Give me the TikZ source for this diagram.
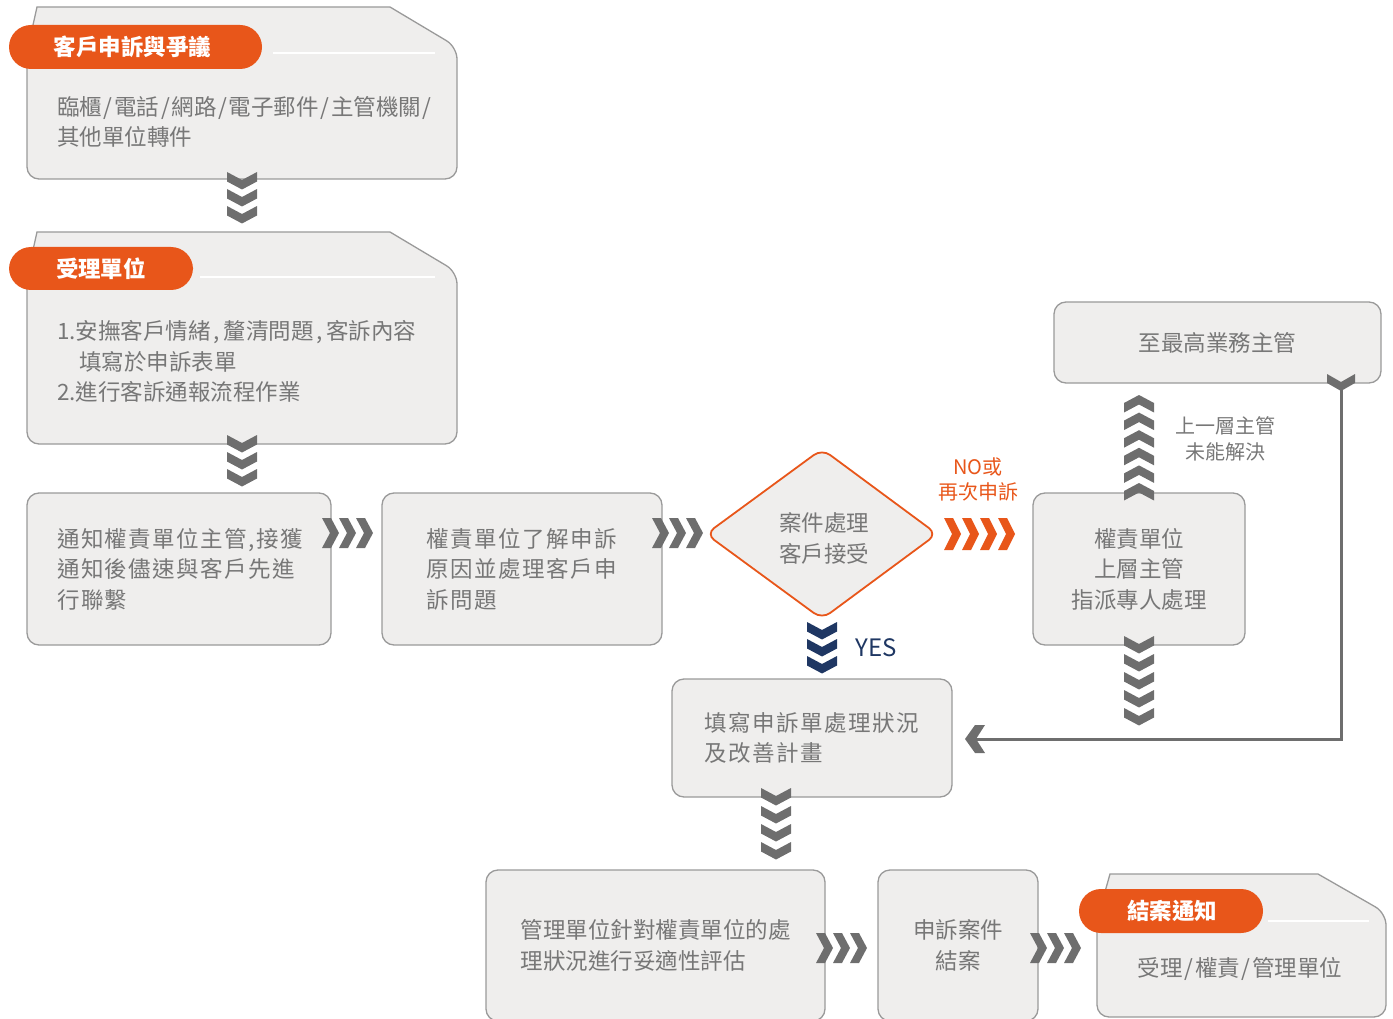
\documentclass[tikz,border=0pt]{standalone}
\usepackage{fontspec}
\newfontfamily\cjk{Noto Sans CJK TC}
\newfontfamily\cjkls{Noto Sans CJK TC}[LetterSpace=6.5]
\usetikzlibrary{calc}
\definecolor{cardfill}{HTML}{EFEEED}
\definecolor{cardline}{HTML}{9A9A9A}
\definecolor{txtgray}{HTML}{777777}
\definecolor{chevgray}{HTML}{6E6E6E}
\definecolor{orng}{HTML}{E8561A}
\definecolor{navy}{HTML}{1F3763}
\tikzset{
  card/.style={fill=cardfill, draw=cardline, line width=1.3pt},
  box/.style={card, rounded corners=12pt, inner sep=0pt},
  body/.style={text=txtgray, font=\cjk\fontsize{22.5}{30.5}\selectfont, inner sep=0pt},
  bodyls/.style={text=txtgray, font=\cjkls\fontsize{22.5}{30.5}\selectfont, inner sep=0pt},
  pill/.style={fill=orng, rounded corners=22pt, text=white, font=\cjk\bfseries\fontsize{22.5}{26}\selectfont, inner sep=0pt, minimum height=44pt},
  sepline/.style={draw=white, line width=1.5pt},
  lbl/.style={font=\cjk\fontsize{20}{25.5}\selectfont, inner sep=0pt, align=center},
}
\newcommand\slsep{\kern1.7pt/\kern1.7pt}
\newcommand\cmsep{\kern2.5pt,\kern4pt}
\newcommand\chevdown[5]{% x, ytop, count, color, spacing
  \foreach \k in {1,...,#3}{\fill[#4, shift={(#1,{#2+(\k-1)*#5})}] (-15,0) -- (0,8) -- (15,0) -- (15,9.5) -- (0,17.5) -- (-15,9.5) -- cycle;}}
\newcommand\chevup[5]{% x, ytop, count, color, spacing
  \foreach \k in {1,...,#3}{\fill[#4, shift={(#1,{#2+(\k-1)*#5})}] (-15,8) -- (0,0) -- (15,8) -- (15,17.5) -- (0,9.5) -- (-15,17.5) -- cycle;}}
\newcommand\chevright[6]{% xleft, ycenter, count, color, spacing, halfheight
  \foreach \k in {1,...,#3}{\fill[#4, shift={({#1+(\k-1)*#5},#2)}] (0,-#6) -- (9,-#6) -- (17,0) -- (9,#6) -- (0,#6) -- (8,0) -- cycle;}}
\begin{document}
\begin{tikzpicture}[x=1pt,y=-1pt]
\useasboundingbox (0,0) rectangle (1393,1019);
\clip (0,0) rectangle (1393,1019);

% ---- Card A
\filldraw[card] (37,7) -- (390,7) -- (423.5,27) [rounded corners=12pt] -- (457,47) -- (457,179) -- (27,179) -- (27,120) [sharp corners] -- (27,52) -- cycle;
\draw[sepline] (273,53) -- (435,53);
\node[pill, minimum width=253pt] (pA) at (135.5,47) {\kern-6pt客戶申訴與爭議};
\node[body, align=left, anchor=west] (tA) at (57,122) {臨櫃\slsep 電話\slsep 網路\slsep 電子郵件\slsep 主管機關\slsep\\其他單位轉件};

% ---- Card B
\filldraw[card] (37,232) -- (390,232) -- (423.5,252) [rounded corners=12pt] -- (457,272) -- (457,444) -- (27,444) -- (27,380) [sharp corners] -- (27,277) -- cycle;
\draw[sepline] (200,277) -- (435,277);
\node[pill, minimum width=184pt, minimum height=43pt] (pB) at (101,268.5) {受理單位};
\node[body, align=left, anchor=west] (tB) at (57,361.5) {1.安撫客戶情緒\cmsep 釐清問題\cmsep 客訴內容\\\hspace*{22pt}填寫於申訴表單\\2.進行客訴通報流程作業};

% ---- Row boxes
\node[box, bodyls, align=left, minimum width=304pt, minimum height=152pt] (C) at (179,569) {\kern2pt通知權責單位主管,接獲\\\kern2pt通知後儘速與客戶先進\\\kern2pt行聯繫};
\node[box, bodyls, align=left, minimum width=280pt, minimum height=152pt] (D) at (522,569) {權責單位了解申訴\\原因並處理客戶申\\訴問題};

% ---- Diamond
\filldraw[fill=cardfill, draw=orng, line width=1.8pt, rounded corners=10pt] (822,449) -- (937,534) -- (822,619) -- (706,534) -- cycle;
\node[body, align=center] (Dm) at (824,538.5) {案件處理\\客戶接受};

% ---- E, F
\node[box, body, align=center, minimum width=212pt, minimum height=152pt] (E) at (1139,569) {權責單位\\上層主管\\指派專人處理};
\node[box, body, align=center, minimum width=327pt, minimum height=81pt] (F) at (1217.5,342.5) {至最高業務主管};

% ---- G, H, I
\node[box, bodyls, align=left, minimum width=280pt, minimum height=118pt] (G) at (812,738) {填寫申訴單處理狀況\\及改善計畫};
\node[box, body, align=left, minimum width=339pt, minimum height=151pt] (H) at (655.5,945.5) {管理單位針對權責單位的處\\理狀況進行妥適性評估};
\node[box, body, align=center, minimum width=160pt, minimum height=151pt] (I) at (958,945.5) {申訴案件\\結案};

% ---- Card J
\filldraw[card] (1110,874) -- (1318,874) -- (1352,893.5) [rounded corners=12pt] -- (1386,913) -- (1386,1017) -- (1097,1017) -- (1097,980) [sharp corners] -- (1097,920) -- cycle;
\draw[sepline] (1268,921) -- (1369,921);
\node[pill, minimum width=184pt] (pJ) at (1171,911) {\kern2pt結案通知};
\node[body] (tJ) at (1240,969) {受理\slsep 權責\slsep 管理單位};

% ---- Labels
\node[lbl, text=orng] (lNo) at (978,479.5) {NO或\\再次申訴};
\node[font=\cjk\fontsize{24}{28}\selectfont, text=navy, inner sep=0pt] (lYes) at (876,648) {YES};
\node[lbl, text=txtgray] (lUp) at (1225,439) {上一層主管\\未能解決};

% ---- Chevron connectors
\chevdown{242}{172}{3}{chevgray}{17}
\chevdown{242}{435}{3}{chevgray}{17}
\chevright{322}{533}{3}{chevgray}{17}{15}
\chevright{652}{533}{3}{chevgray}{17}{15}
\chevright{944}{534}{4}{orng}{18}{16}
\chevdown{822}{622}{3}{navy}{17}
\chevup{1139}{395}{6}{chevgray}{17.6}
\chevdown{1139}{636}{5}{chevgray}{18}
\chevdown{776}{788}{4}{chevgray}{18}
\chevright{816}{948}{3}{chevgray}{17}{15}
\chevright{1030}{948}{3}{chevgray}{17}{15}

% ---- Return line from F to G
\fill[chevgray] (1327,374) -- (1341,382) -- (1355,374) -- (1355,383) -- (1341,391) -- (1327,383) -- cycle;
\coordinate (fdrop) at (1341,739);
\coordinate (ghook) at (976,739);
\draw[chevgray, line width=3pt] (1341,389) -- (fdrop) -- (ghook);
\fill[chevgray] (965,739) -- (975,725) -- (985,725) -- (976,739) -- (985,753) -- (975,753) -- cycle;
\end{tikzpicture}
\end{document}
